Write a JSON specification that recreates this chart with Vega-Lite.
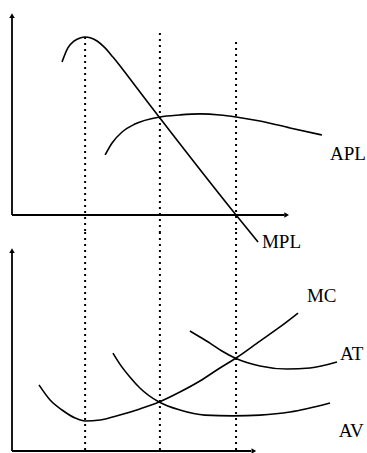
{
  "$schema": "https://vega.github.io/schema/vega-lite/v6.json",
  "padding": 0,
  "spacing": 0,
  "bounds": "flush",
  "autosize": {"type": "pad"},
  "background": "white",
  "config": {"view": {"stroke": null}},
  "datasets": {
    "topCurves": [
      {"curve": "MPL", "q": 1.80, "v": 7.54},
      {"curve": "MPL", "q": 2.01, "v": 8.23},
      {"curve": "MPL", "q": 2.23, "v": 8.57},
      {"curve": "MPL", "q": 2.45, "v": 8.72},
      {"curve": "MPL", "q": 2.63, "v": 8.77},
      {"curve": "MPL", "q": 2.84, "v": 8.72},
      {"curve": "MPL", "q": 3.06, "v": 8.57},
      {"curve": "MPL", "q": 3.31, "v": 8.28},
      {"curve": "MPL", "q": 3.63, "v": 7.78},
      {"curve": "MPL", "q": 4.50, "v": 6.24},
      {"curve": "MPL", "q": 5.32, "v": 4.78},
      {"curve": "MPL", "q": 8.06, "v": 0.0},
      {"curve": "MPL", "q": 8.85, "v": -1.33},
      {"curve": "APL", "q": 3.35, "v": 2.96},
      {"curve": "APL", "q": 3.60, "v": 3.55},
      {"curve": "APL", "q": 3.96, "v": 4.09},
      {"curve": "APL", "q": 4.42, "v": 4.48},
      {"curve": "APL", "q": 5.32, "v": 4.83},
      {"curve": "APL", "q": 6.04, "v": 4.93},
      {"curve": "APL", "q": 6.76, "v": 4.98},
      {"curve": "APL", "q": 7.48, "v": 4.93},
      {"curve": "APL", "q": 8.06, "v": 4.83},
      {"curve": "APL", "q": 8.92, "v": 4.63},
      {"curve": "APL", "q": 10.0, "v": 4.29},
      {"curve": "APL", "q": 11.15, "v": 3.94}
    ],
    "bottomCurves": [
      {"curve": "MC", "q": 0.97, "v": 3.24},
      {"curve": "MC", "q": 1.37, "v": 2.50},
      {"curve": "MC", "q": 1.80, "v": 2.01},
      {"curve": "MC", "q": 2.27, "v": 1.62},
      {"curve": "MC", "q": 2.63, "v": 1.47},
      {"curve": "MC", "q": 3.17, "v": 1.52},
      {"curve": "MC", "q": 3.88, "v": 1.76},
      {"curve": "MC", "q": 4.60, "v": 2.06},
      {"curve": "MC", "q": 5.29, "v": 2.40},
      {"curve": "MC", "q": 6.04, "v": 2.89},
      {"curve": "MC", "q": 6.76, "v": 3.43},
      {"curve": "MC", "q": 7.48, "v": 4.07},
      {"curve": "MC", "q": 8.06, "v": 4.56},
      {"curve": "MC", "q": 8.92, "v": 5.39},
      {"curve": "MC", "q": 9.64, "v": 6.08},
      {"curve": "MC", "q": 10.29, "v": 6.76},
      {"curve": "AVC", "q": 3.63, "v": 4.80},
      {"curve": "AVC", "q": 3.88, "v": 4.26},
      {"curve": "AVC", "q": 4.24, "v": 3.63},
      {"curve": "AVC", "q": 4.60, "v": 3.09},
      {"curve": "AVC", "q": 5.29, "v": 2.40},
      {"curve": "AVC", "q": 6.04, "v": 2.01},
      {"curve": "AVC", "q": 6.94, "v": 1.76},
      {"curve": "AVC", "q": 7.95, "v": 1.72},
      {"curve": "AVC", "q": 8.92, "v": 1.76},
      {"curve": "AVC", "q": 10.0, "v": 1.91},
      {"curve": "AVC", "q": 11.44, "v": 2.35},
      {"curve": "ATC", "q": 6.40, "v": 5.88},
      {"curve": "ATC", "q": 6.76, "v": 5.59},
      {"curve": "ATC", "q": 7.12, "v": 5.29},
      {"curve": "ATC", "q": 7.55, "v": 4.90},
      {"curve": "ATC", "q": 8.02, "v": 4.56},
      {"curve": "ATC", "q": 8.92, "v": 4.17},
      {"curve": "ATC", "q": 9.89, "v": 4.02},
      {"curve": "ATC", "q": 10.72, "v": 4.07},
      {"curve": "ATC", "q": 11.69, "v": 4.36}
    ],
    "topAxes": [
      {"q": 0, "v": 0, "q2": 0, "v2": 9.7},
      {"q": 0, "v": 0, "q2": 9.8, "v2": 0}
    ],
    "topArrows": [
      {"q": 0, "v": 9.82, "dir": "up"},
      {"q": 9.88, "v": 0, "dir": "right"}
    ],
    "bottomAxes": [
      {"q": 0, "v": 0, "q2": 0, "v2": 9.7},
      {"q": 0, "v": 0, "q2": 8.6, "v2": 0}
    ],
    "bottomArrows": [
      {"q": 0, "v": 9.82, "dir": "up"},
      {"q": 8.7, "v": 0, "dir": "right"}
    ],
    "topGuides": [
      {"q": 2.63, "v": 8.77, "v2": -0.837},
      {"q": 5.32, "v": 8.97, "v2": -0.837},
      {"q": 8.06, "v": 8.52, "v2": -0.837}
    ],
    "bottomGuides": [
      {"q": 2.63, "v": 10.735, "v2": 0},
      {"q": 5.32, "v": 10.735, "v2": 0},
      {"q": 8.06, "v": 10.735, "v2": 0}
    ],
    "topLabels": [
      {"label": "APL", "q": 11.44, "v": 2.71},
      {"label": "MPL", "q": 8.99, "v": -1.63}
    ],
    "bottomLabels": [
      {"label": "MC", "q": 10.61, "v": 7.30},
      {"label": "AT", "q": 11.8, "v": 4.46},
      {"label": "AV", "q": 11.75, "v": 0.69}
    ]
  },
  "vconcat": [
    {
      "width": 367,
      "height": 232,
      "layer": [
        {
          "data": {"name": "topGuides"},
          "mark": {"type": "rule", "color": "black", "strokeWidth": 2, "strokeDash": [2, 4]},
          "encoding": {
            "x": {"field": "q", "type": "quantitative", "scale": {"domain": [-0.4317, 12.77], "nice": false, "zero": false}, "axis": null},
            "y": {"field": "v", "type": "quantitative", "scale": {"domain": [-0.837, 10.591], "nice": false, "zero": false}, "axis": null},
            "y2": {"field": "v2"}
          }
        },
        {
          "data": {"name": "topAxes"},
          "mark": {"type": "rule", "color": "black", "strokeWidth": 1.8},
          "encoding": {
            "x": {"field": "q", "type": "quantitative"},
            "x2": {"field": "q2"},
            "y": {"field": "v", "type": "quantitative"},
            "y2": {"field": "v2"}
          }
        },
        {
          "data": {"name": "topArrows"},
          "mark": {"type": "point", "filled": true, "color": "black", "size": 30, "opacity": 1},
          "encoding": {
            "x": {"field": "q", "type": "quantitative"},
            "y": {"field": "v", "type": "quantitative"},
            "shape": {"field": "dir", "type": "nominal", "scale": {"domain": ["up", "right"], "range": ["triangle-up", "triangle-right"]}, "legend": null}
          }
        },
        {
          "data": {"name": "topCurves"},
          "mark": {"type": "line", "interpolate": "monotone", "color": "black", "strokeWidth": 1.6},
          "encoding": {
            "x": {"field": "q", "type": "quantitative"},
            "y": {"field": "v", "type": "quantitative"},
            "detail": {"field": "curve", "type": "nominal"}
          }
        },
        {
          "data": {"name": "topLabels"},
          "mark": {"type": "text", "align": "left", "baseline": "alphabetic", "font": "Liberation Serif", "fontSize": 19, "color": "black"},
          "encoding": {
            "x": {"field": "q", "type": "quantitative"},
            "y": {"field": "v", "type": "quantitative"},
            "text": {"field": "label", "type": "nominal"}
          }
        }
      ]
    },
    {
      "width": 367,
      "height": 221,
      "layer": [
        {
          "data": {"name": "bottomGuides"},
          "mark": {"type": "rule", "color": "black", "strokeWidth": 2, "strokeDash": [2, 4]},
          "encoding": {
            "x": {"field": "q", "type": "quantitative", "scale": {"domain": [-0.4317, 12.77], "nice": false, "zero": false}, "axis": null},
            "y": {"field": "v", "type": "quantitative", "scale": {"domain": [-0.098, 10.735], "nice": false, "zero": false}, "axis": null},
            "y2": {"field": "v2"}
          }
        },
        {
          "data": {"name": "bottomAxes"},
          "mark": {"type": "rule", "color": "black", "strokeWidth": 1.8},
          "encoding": {
            "x": {"field": "q", "type": "quantitative"},
            "x2": {"field": "q2"},
            "y": {"field": "v", "type": "quantitative"},
            "y2": {"field": "v2"}
          }
        },
        {
          "data": {"name": "bottomArrows"},
          "mark": {"type": "point", "filled": true, "color": "black", "size": 30, "opacity": 1},
          "encoding": {
            "x": {"field": "q", "type": "quantitative"},
            "y": {"field": "v", "type": "quantitative"},
            "shape": {"field": "dir", "type": "nominal", "scale": {"domain": ["up", "right"], "range": ["triangle-up", "triangle-right"]}, "legend": null}
          }
        },
        {
          "data": {"name": "bottomCurves"},
          "mark": {"type": "line", "interpolate": "monotone", "color": "black", "strokeWidth": 1.6},
          "encoding": {
            "x": {"field": "q", "type": "quantitative"},
            "y": {"field": "v", "type": "quantitative"},
            "detail": {"field": "curve", "type": "nominal"}
          }
        },
        {
          "data": {"name": "bottomLabels"},
          "mark": {"type": "text", "align": "left", "baseline": "alphabetic", "font": "Liberation Serif", "fontSize": 19, "color": "black"},
          "encoding": {
            "x": {"field": "q", "type": "quantitative"},
            "y": {"field": "v", "type": "quantitative"},
            "text": {"field": "label", "type": "nominal"}
          }
        }
      ]
    }
  ]
}
